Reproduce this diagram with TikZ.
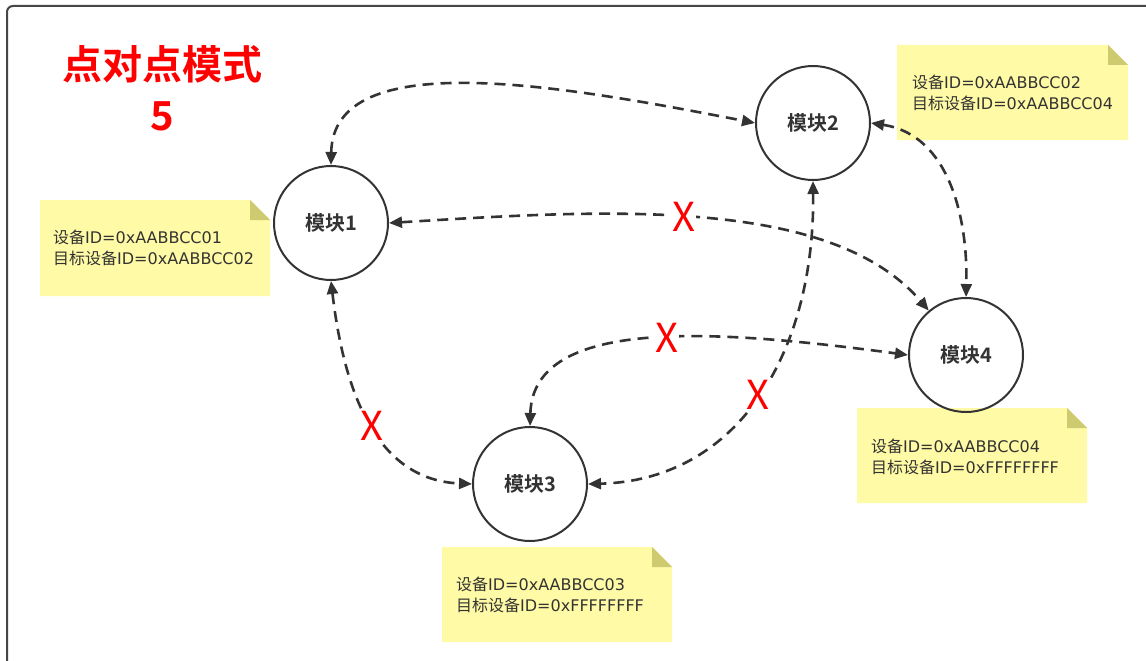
\documentclass[tikz,border=0pt]{standalone}
\usepackage{fontspec}
\setmainfont{DejaVu Sans}
\newfontfamily\cjk{Noto Sans CJK SC}[BoldFont={Noto Sans CJK SC Bold}]
\usetikzlibrary{arrows.meta,positioning}
\definecolor{linegray}{RGB}{51,51,51}
\definecolor{framegray}{RGB}{70,70,70}
\definecolor{notefill}{RGB}{255,250,165}
\definecolor{notefold}{RGB}{206,202,112}
\newcommand{\idtext}[2]{{\cjk 设备}ID=0x#1\\{\cjk 目标设备}ID=0x#2}

\begin{document}
\begin{tikzpicture}[x=1pt,y=-1pt,
  module/.style={circle,draw=linegray,line width=2pt,minimum size=114pt,inner sep=0pt,
    text=linegray,font=\cjk\bfseries\fontsize{20}{20}\selectfont},
  link/.style={linegray,line width=2.6pt,dash pattern=on 11pt off 7pt,
    {Triangle[length=13pt,width=11pt]}-{Triangle[length=13pt,width=11pt]}},
  cross/.style={fill=white,inner sep=1pt,text=red,font=\cjk\fontsize{40}{40}\selectfont},
  notetext/.style={anchor=west,align=left,inner sep=0pt,text=linegray,
    font=\fontsize{16}{21}\selectfont}]
\useasboundingbox (0,0) rectangle (1146,661);
\fill[white] (0,0) rectangle (1146,661);
% frame
\draw[framegray,line width=2pt,rounded corners=6pt] (7,661) -- (7,6) -- (1146,6);
% title
\node[text=red,align=center,font=\cjk\bfseries\fontsize{40}{51}\selectfont] (title) at (162,88) {点对点模式\\5};
% notes
\fill[notefill] (40,200) -- (250,200) -- (270,220) -- (270,296) -- (40,296) -- cycle;
\fill[notefold] (250,200) -- (270,220) -- (250,220) -- cycle;
\fill[notefill] (897,45) -- (1108,45) -- (1128,65) -- (1128,140) -- (897,140) -- cycle;
\fill[notefold] (1108,45) -- (1128,65) -- (1108,65) -- cycle;
\fill[notefill] (857,408) -- (1067,408) -- (1087,428) -- (1087,503) -- (857,503) -- cycle;
\fill[notefold] (1067,408) -- (1087,428) -- (1067,428) -- cycle;
\fill[notefill] (442,547) -- (652,547) -- (672,567) -- (672,642) -- (442,642) -- cycle;
\fill[notefold] (652,547) -- (672,567) -- (652,567) -- cycle;
\node[notetext] (n1) at (53,248) {\idtext{AABBCC01}{AABBCC02}};
\node[notetext] (n2) at (912,93) {\idtext{AABBCC02}{AABBCC04}};
\node[notetext] (n4) at (871,457) {\idtext{AABBCC04}{FFFFFFFF}};
\node[notetext] (n3) at (456,595) {\idtext{AABBCC03}{FFFFFFFF}};
% modules
\node[module] (m1) at (331,223) {模块1};
\node[module] (m2) at (813,123) {模块2};
\node[module] (m3) at (530,484) {模块3};
\node[module] (m4) at (966,355) {模块4};
% links
\draw[link] (m1.north) .. controls (333,45) and (560,85) .. (m2.west);
\draw[link] (m1.east) .. controls (600,210) and (830,195) .. (m4.130) node[cross,pos=0.47] (x1) {X};
\draw[link] (m1.south) .. controls (345,400) and (380,480) .. (m3.west) node[cross,pos=0.5] (x2) {X};
\draw[link] (m3.north) .. controls (533,315) and (720,330) .. (m4.west) node[cross,pos=0.54] (x3) {X};
\draw[link] (m2.south) .. controls (815,350) and (740,480) .. (m3.east) node[cross,pos=0.5] (x4) {X};
\draw[link] (m2.east) .. controls (950,135) and (968,220) .. (m4.north);
\end{tikzpicture}
\end{document}
